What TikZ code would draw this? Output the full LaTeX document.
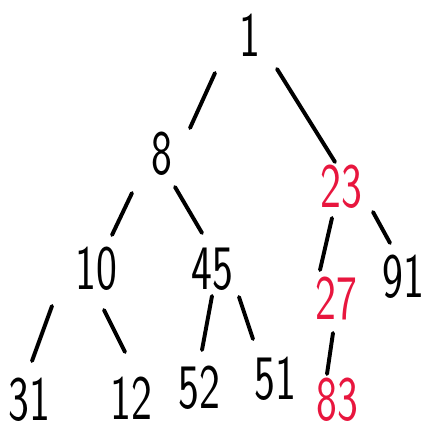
\documentclass[tikz,border=0pt]{standalone}
\usepackage{fontspec}
\usetikzlibrary{positioning}
\definecolor{handred}{RGB}{232,22,62}
\newcommand{\hw}[1]{\scalebox{0.7}[1]{#1}}

\begin{document}
\begin{tikzpicture}[x=0.025cm,y=-0.025cm,
  num/.style={font=\sffamily\fontsize{45}{48}\selectfont,inner sep=0pt},
  edge/.style={line width=2.8pt,line cap=round}]
  \useasboundingbox (0,0) rectangle (427,432);
  % 根
  \node[num] (n1) at (250,35) {\hw{1}};
  % 第2段
  \node[num] (n8) at (162,154) {\hw{8}};
  \node[num,handred] (n23) at (341,187) {\hw{23}};
  % 第3段
  \node[num] (n10) at (96,269) {\hw{10}};
  \node[num] (n45) at (212,269) {\hw{45}};
  \node[num,handred] (n27) at (336,298) {\hw{27}};
  \node[num] (n91) at (403,277) {\hw{91}};
  % 葉
  \node[num] (n31) at (29,400) {\hw{31}};
  \node[num] (n12) at (131,398) {\hw{12}};
  \node[num] (n52) at (199,388) {\hw{52}};
  \node[num] (n51) at (275,379) {\hw{51}};
  \node[num,handred] (n83) at (337,400) {\hw{83}};
  % 枝
  \draw[edge] ([shift={(-35,38)}]n1.center) -- ([shift={(28,-26)}]n8.center);
  \draw[edge] ([shift={(27,34)}]n1.center) -- ([shift={(-6,-25)}]n23.center);
  \draw[edge] ([shift={(-30,39)}]n8.center) -- ([shift={(16,-34)}]n10.center);
  \draw[edge] ([shift={(13,33)}]n8.center) -- ([shift={(-10,-36)}]n45.center);
  \draw[edge] ([shift={(-9,31)}]n23.center) -- ([shift={(-16,-28)}]n27.center);
  \draw[edge] ([shift={(32,25)}]n23.center) -- ([shift={(-13,-34)}]n91.center);
  \draw[edge] ([shift={(-44,37)}]n10.center) -- ([shift={(3,-39)}]n31.center);
  \draw[edge] ([shift={(8,41)}]n10.center) -- ([shift={(-6,-46)}]n12.center);
  \draw[edge] ([shift={(0,27)}]n45.center) -- ([shift={(3,-38)}]n52.center);
  \draw[edge] ([shift={(27,28)}]n45.center) -- ([shift={(-22,-40)}]n51.center);
  \draw[edge] ([shift={(-3,35)}]n27.center) -- ([shift={(-10,-26)}]n83.center);
\end{tikzpicture}
\end{document}
